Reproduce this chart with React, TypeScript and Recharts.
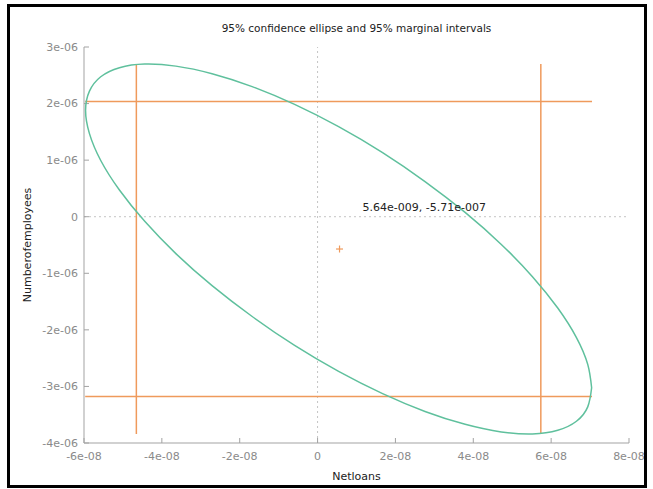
import React from "react";
import { ReferenceLine, Scatter, ScatterChart, XAxis, YAxis } from "recharts";

// values
const xTicks = [-6e-8, -4e-8, -2e-8, 0, 2e-8, 4e-8, 6e-8, 8e-8];
const xTickLabels = ["-6e-08", "-4e-08", "-2e-08", "0", "2e-08", "4e-08", "6e-08", "8e-08"];
const yTicks = [-4e-6, -3e-6, -2e-6, -1e-6, 0, 1e-6, 2e-6, 3e-6];
const yTickLabels = ["-4e-06", "-3e-06", "-2e-06", "-1e-06", "0", "1e-06", "2e-06", "3e-06"];

const ellipseX = [
  7.04e-8, 6.94e-8, 6.65e-8, 6.17e-8, 5.52e-8, 4.72e-8, 3.79e-8, 2.76e-8, 1.67e-8, 0.54e-8,
  -0.59e-8, -1.68e-8, -2.71e-8, -3.64e-8, -4.44e-8, -5.09e-8, -5.57e-8, -5.86e-8, -5.96e-8,
  -5.86e-8, -5.57e-8, -5.09e-8, -4.44e-8, -3.64e-8, -2.71e-8, -1.68e-8, -0.59e-8, 0.54e-8,
  1.67e-8, 2.76e-8, 3.79e-8, 4.72e-8, 5.52e-8, 6.17e-8, 6.65e-8, 6.94e-8,
];
const ellipseY = [
  -3.024e-6, -2.611e-6, -2.136e-6, -1.614e-6, -1.06e-6, -0.49e-6, 0.076e-6, 0.622e-6, 1.133e-6,
  1.592e-6, 1.985e-6, 2.3e-6, 2.528e-6, 2.662e-6, 2.698e-6, 2.634e-6, 2.474e-6, 2.22e-6, 1.882e-6,
  1.469e-6, 0.994e-6, 0.472e-6, -0.082e-6, -0.652e-6, -1.218e-6, -1.764e-6, -2.275e-6, -2.734e-6,
  -3.127e-6, -3.442e-6, -3.67e-6, -3.804e-6, -3.84e-6, -3.776e-6, -3.616e-6, -3.362e-6,
];

const marginX = [-4.655e-8, 5.735e-8]; // 95% marginal interval, Netloans
const marginY = [-3.18e-6, 2.035e-6]; // 95% marginal interval, Numberofemployees
const spanX = [-5.97e-8, 7.05e-8];
const spanY = [-3.84e-6, 2.7e-6];
const center = { x: 5.64e-9, y: -5.71e-7, label: "5.64e-009, -5.71e-007" };

const GREEN = "#5fc09d";
const ORANGE = "#ef9a5c";
const AXIS = "#a3a3a3";
const FONT = "DejaVu Sans";

const ellipseData = [...ellipseX, ellipseX[0]].map((x, i) => ({
  x,
  y: i < ellipseY.length ? ellipseY[i] : ellipseY[0],
}));
const vLines = marginX.map((x) => spanY.map((y) => ({ x, y })));
const hLines = marginY.map((y) => spanX.map((x) => ({ x, y })));

const noDot = () => <g />;

const CenterMark = (props: any) => {
  const { cx, cy } = props;
  return (
    <g>
      <line x1={cx - 3.5} y1={cy} x2={cx + 3.5} y2={cy} stroke={ORANGE} strokeWidth={1.2} />
      <line x1={cx} y1={cy - 3.5} x2={cx} y2={cy + 3.5} stroke={ORANGE} strokeWidth={1.2} />
      <text x={cx + 23} y={cy - 38} fontSize={11} fontFamily={FONT} fill="#222">
        {center.label}
      </text>
    </g>
  );
};

export default function App() {
  return (
    <div
      style={{
        position: "absolute",
        left: 7,
        top: 4,
        width: 640,
        height: 484,
        border: "3px solid #000",
        boxSizing: "border-box",
        background: "#fff",
      }}
    >
      <div
        style={{
          position: "absolute",
          left: 74,
          top: 14,
          width: 545,
          textAlign: "center",
          fontFamily: FONT,
          fontSize: 10.5,
          lineHeight: "14px",
          color: "#222",
        }}
      >
        95% confidence ellipse and 95% marginal intervals
      </div>
      <ScatterChart
        width={634}
        height={478}
        margin={{ top: 40, right: 15, bottom: 0, left: 0 }}
        style={{ fontFamily: FONT }}
      >
        <XAxis
          type="number"
          dataKey="x"
          domain={[xTicks[0], xTicks[xTicks.length - 1]]}
          ticks={xTicks}
          interval={0}
          allowDataOverflow
          height={42}
          tickSize={-5}
          tickMargin={14}
          stroke={AXIS}
          tick={{ fill: "#8a8a8a", fontSize: 11 }}
          tickFormatter={(_v: number, i: number) => xTickLabels[i]}
          label={{ value: "Netloans", position: "insideBottom", offset: 5, fill: "#222", fontSize: 11 }}
        />
        <YAxis
          type="number"
          dataKey="y"
          domain={[yTicks[0], yTicks[yTicks.length - 1]]}
          ticks={yTicks}
          interval={0}
          allowDataOverflow
          width={74}
          tickSize={-5}
          tickMargin={11}
          stroke={AXIS}
          tick={{ fill: "#8a8a8a", fontSize: 11 }}
          tickFormatter={(_v: number, i: number) => yTickLabels[i]}
          label={{
            value: "Numberofemployees",
            angle: -90,
            position: "insideLeft",
            offset: 17,
            textAnchor: "middle",
            fill: "#222",
            fontSize: 11,
          }}
        />
        <ReferenceLine x={0} stroke="#c4c4c4" strokeDasharray="2 3" />
        <ReferenceLine y={0} stroke="#c4c4c4" strokeDasharray="2 3" />
        {vLines.map((d, i) => (
          <Scatter
            key={"v" + i}
            data={d}
            line={{ stroke: ORANGE, strokeWidth: 1.5 }}
            shape={noDot}
            isAnimationActive={false}
          />
        ))}
        {hLines.map((d, i) => (
          <Scatter
            key={"h" + i}
            data={d}
            line={{ stroke: ORANGE, strokeWidth: 1.5 }}
            shape={noDot}
            isAnimationActive={false}
          />
        ))}
        <Scatter
          data={ellipseData}
          line={{ stroke: GREEN, strokeWidth: 1.5 }}
          lineJointType="natural"
          shape={noDot}
          isAnimationActive={false}
        />
        <Scatter data={[center]} shape={CenterMark} isAnimationActive={false} />
      </ScatterChart>
    </div>
  );
}
